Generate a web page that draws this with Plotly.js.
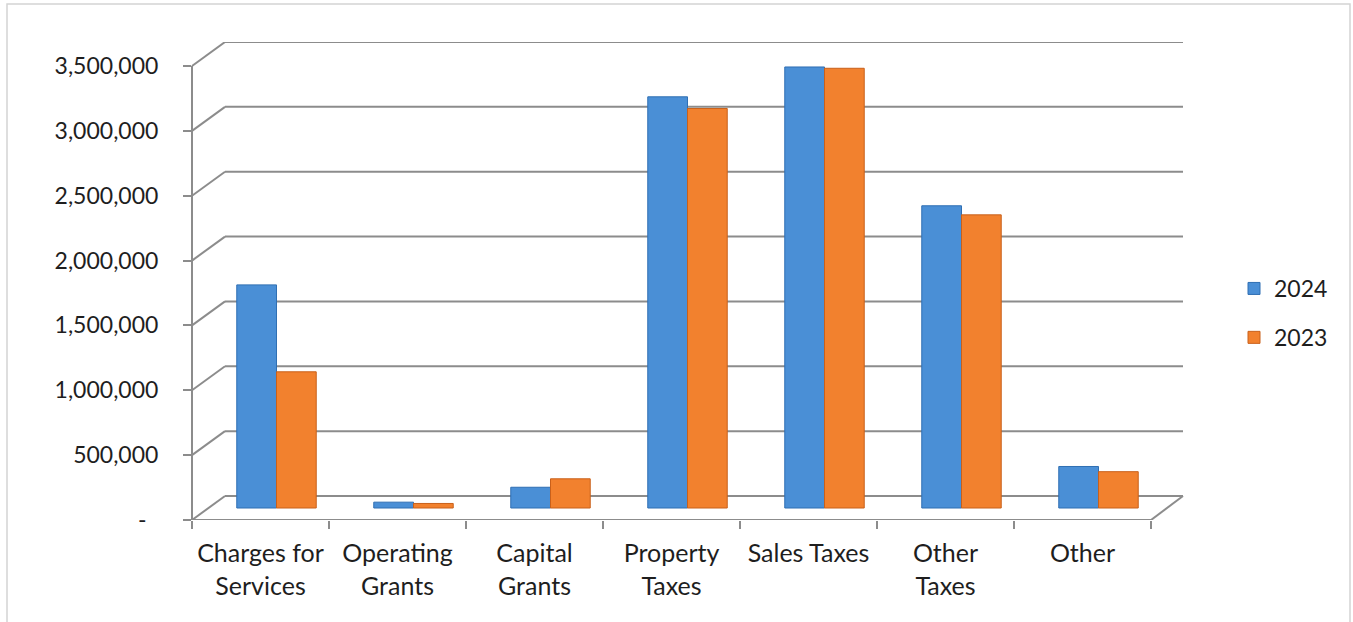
<!DOCTYPE html>
<html><head><meta charset="utf-8">
<script src="https://cdn.plot.ly/plotly-3.0.1.min.js"></script>
<style>html,body{margin:0;padding:0;background:#fff}#chart{width:1353px;height:622px}</style>
</head><body><div id="chart"></div>
<script>
// ---- data ----
const categories = ['Charges for<br>Services', 'Operating<br>Grants', 'Capital<br>Grants', 'Property<br>Taxes', 'Sales Taxes', 'Other<br>Taxes', 'Other'];
const seriesNames = ['2024', '2023'];
const values2024 = [1720000, 45000, 160000, 3170000, 3400000, 2330000, 320000];
const values2023 = [1050000, 35000, 225000, 3080000, 3390000, 2260000, 280000];
const tickValues = [0, 500000, 1000000, 1500000, 2000000, 2500000, 3000000, 3500000];
const tickLabels = ['-\u00a0\u00a0', '500,000', '1,000,000', '1,500,000', '2,000,000', '2,500,000', '3,000,000', '3,500,000'];

// ---- geometry (pixels) ----
const L = 192, R = 1183, T = 42, B = 520;
const plotW = R - L, plotH = B - T;
const catW = 137;
const backDX = 33, backDY = 24, midDX = 16, midDY = 12;
const u = 3500000 / 454;           // value units per pixel
const nCat = categories.length;
const grid = '#8c8c8c';
const FONT = 'Lato, "Open Sans", sans-serif';
const fx = px => px / plotW;      // pixel offset -> paper x

const shapes = [];
// back wall gridlines + left diagonals
tickValues.forEach(v => {
  shapes.push({type: 'line', layer: 'below', xref: 'paper', yref: 'y2',
    x0: fx(backDX), x1: 1, y0: v + backDY * u, y1: v + backDY * u,
    line: {color: grid, width: 2}});
  shapes.push({type: 'line', layer: 'below', xref: 'paper', yref: 'y2',
    x0: 0, x1: fx(backDX), y0: v, y1: v + backDY * u,
    line: {color: grid, width: 2}});
});
const frontRight = fx(nCat * catW);
// front vertical axis
shapes.push({type: 'line', layer: 'below', xref: 'paper', yref: 'y2',
  x0: 0, x1: 0, y0: 0, y1: tickValues[tickValues.length - 1], line: {color: grid, width: 2}});
// front floor edge + right diagonal
shapes.push({type: 'line', layer: 'below', xref: 'paper', yref: 'y2',
  x0: 0, x1: frontRight, y0: 0, y1: 0, line: {color: grid, width: 2}});
shapes.push({type: 'line', layer: 'below', xref: 'paper', yref: 'y2',
  x0: frontRight, x1: 1, y0: 0, y1: backDY * u, line: {color: grid, width: 2}});
// outer chart border
shapes.push({type: 'rect', layer: 'below', xref: 'paper', yref: 'paper',
  x0: (7 - L) / plotW, x1: (1350 - L) / plotW, y0: (B - 640) / plotH, y1: (B - 4) / plotH,
  line: {color: '#d4d4d4', width: 1.5}, fillcolor: 'rgba(0,0,0,0)'});

const traces = [
  {type: 'bar', name: seriesNames[0], x: categories, y: values2024, legendgroup: 'a',
   marker: {color: '#4a8fd6', line: {color: '#2f6fb3', width: 1}}, hoverinfo: 'y'},
  {type: 'bar', name: seriesNames[1], x: categories, y: values2023, legendgroup: 'b',
   marker: {color: '#f2812e', line: {color: '#c9601a', width: 1}}, hoverinfo: 'y'},
  {type: 'scatter', mode: 'markers', x: categories, y: categories.map(() => null),
   xaxis: 'x2', yaxis: 'y2', showlegend: false, hoverinfo: 'skip'}
];

const layout = {
  width: 1353, height: 622,
  margin: {l: L, r: 1353 - R, t: T, b: 622 - B, pad: 0},
  paper_bgcolor: '#ffffff', plot_bgcolor: 'rgba(0,0,0,0)',
  font: {family: FONT, size: 23, color: '#1e1e1e'},
  barmode: 'group', bargap: 0.42, bargroupgap: 0,
  showlegend: true,
  legend: {x: (1234 - L) / plotW, xanchor: 'left', y: (B - 313) / plotH, yanchor: 'middle',
    font: {family: FONT, size: 23, color: '#1e1e1e'}, tracegroupgap: 16,
    bgcolor: 'rgba(0,0,0,0)'},
  xaxis: {type: 'category', categoryorder: 'array', categoryarray: categories,
    range: [-0.5 - midDX / catW, -0.5 + (plotW - midDX) / catW],
    showticklabels: false, ticks: '', showgrid: false, zeroline: false, showline: false, fixedrange: true},
  yaxis: {range: [-midDY * u, (B - midDY - T) * u], visible: false, fixedrange: true},
  xaxis2: {type: 'category', categoryorder: 'array', categoryarray: categories,
    overlaying: 'x', anchor: 'y2', side: 'bottom',
    range: [-0.5, -0.5 + plotW / catW], tickson: 'boundaries',
    ticks: 'outside', ticklen: 8, tickwidth: 2, tickcolor: grid,
    showgrid: false, zeroline: false, showline: false, ticklabelstandoff: 16,
    tickfont: {family: FONT, size: 25, color: '#1e1e1e'}},
  yaxis2: {overlaying: 'y', anchor: 'x2', side: 'left', range: [0, plotH * u],
    tickmode: 'array', tickvals: tickValues, ticktext: tickLabels,
    ticks: 'outside', ticklen: 8, tickwidth: 2, tickcolor: grid,
    showgrid: false, zeroline: false, showline: false, ticklabelstandoff: 20,
    tickfont: {family: FONT, size: 23, color: '#1e1e1e'}},
  shapes: shapes
};

Plotly.newPlot('chart', traces, layout, {displayModeBar: false, staticPlot: true});
</script>
</body></html>
